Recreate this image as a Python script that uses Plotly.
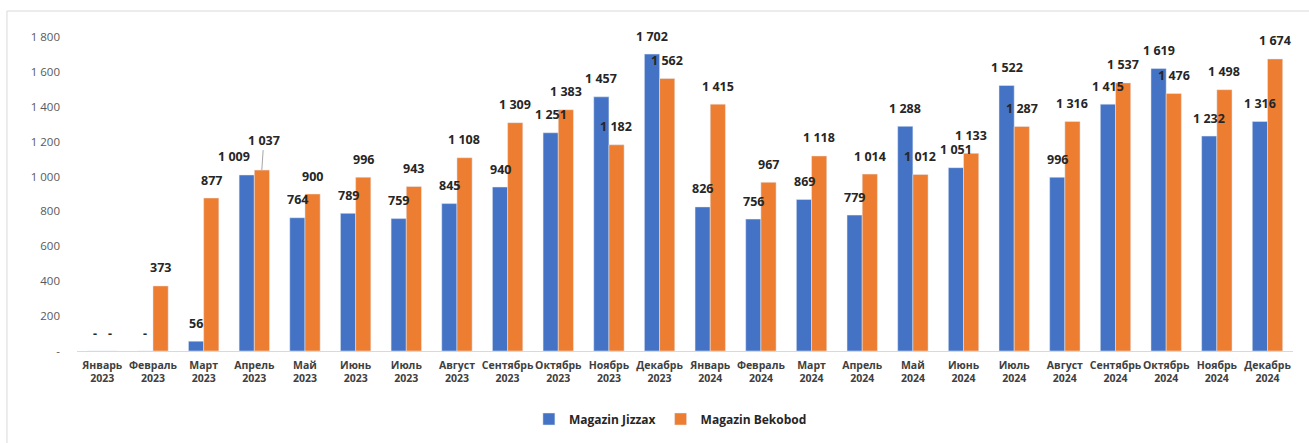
import plotly.graph_objects as go

months = ["Январь", "Февраль", "Март", "Апрель", "Май", "Июнь", "Июль", "Август",
          "Сентябрь", "Октябрь", "Ноябрь", "Декабрь"]
years = ["2023", "2024"]
categories = [f"{m}<br>{y}" for y in years for m in months]

jizzax = [0, 0, 56, 1009, 764, 789, 759, 845, 940, 1251, 1457, 1702,
          826, 756, 869, 779, 1288, 1051, 1522, 996, 1415, 1619, 1232, 1316]
bekobod = [0, 373, 877, 1037, 900, 996, 943, 1108, 1309, 1383, 1182, 1562,
           1415, 967, 1118, 1014, 1012, 1133, 1287, 1316, 1537, 1476, 1498, 1674]

y_ticks = [0, 200, 400, 600, 800, 1000, 1200, 1400, 1600, 1800]
y_ticktext = ["-", "200", "400", "600", "800", "1 000", "1 200", "1 400", "1 600", "1 800"]

BLUE = "#4472C4"
ORANGE = "#ED7D31"
FONT = "Open Sans"

# manual label nudges (series index, category index) -> (dx, dy, leader line)
label_nudge = {(0, 3): (-13, 0, False), (1, 3): (2, 12, True)}


def fmt(v):
    return "-" if v == 0 else f"{v:,}".replace(",", " ")


fig = go.Figure()
fig.add_trace(go.Bar(x=categories, y=jizzax, name="Magazin Jizzax", marker_color=BLUE))
fig.add_trace(go.Bar(x=categories, y=bekobod, name="Magazin Bekobod", marker_color=ORANGE))

annotations = []
half = 7.5
label_font = dict(family=FONT, size=12.5, color="#262626", weight="bold")
for si, (series, sx) in enumerate(((jizzax, -half), (bekobod, half))):
    for ci, (c, v) in enumerate(zip(categories, series)):
        dx, dy, leader = label_nudge.get((si, ci), (0, 0, False))
        if leader:
            annotations.append(dict(
                x=c, y=v, xref="x", yref="y", text=fmt(v), showarrow=True,
                arrowhead=0, arrowwidth=1, arrowcolor="#a6a6a6", standoff=0,
                ax=dx, ay=-(18 + dy), xshift=sx, font=label_font,
            ))
        else:
            annotations.append(dict(
                x=c, y=v, xref="x", yref="y", text=fmt(v), showarrow=False,
                xshift=sx + dx, yshift=18 + dy, yanchor="middle", font=label_font,
            ))

fig.update_layout(
    width=1309, height=443,
    margin=dict(l=77, r=16, t=37, b=92, autoexpand=False),
    paper_bgcolor="white", plot_bgcolor="white",
    barmode="group", bargap=0.4, bargroupgap=0,
    font=dict(family=FONT, color="#404040"),
    showlegend=True,
    legend=dict(orientation="h", x=0.488, xanchor="center", y=-0.2166, yanchor="middle",
                font=dict(size=12, color="#262626", weight="bold"), itemwidth=30,
                tracegroupgap=0),
    annotations=annotations,
    shapes=[dict(type="rect", xref="paper", yref="paper",
                 x0=-0.0576, x1=1.2, y0=-0.6, y1=1.0828,
                 line=dict(color="#d9d9d9", width=1), layer="below")],
)
fig.update_xaxes(showline=True, linecolor="#d9d9d9", linewidth=1, showgrid=False,
                 ticks="", tickfont=dict(size=10.5, color="#404040", weight="bold"),
                 tickangle=0, ticklabelstandoff=4)
fig.update_yaxes(range=[0, 1800], tickvals=y_ticks, ticktext=y_ticktext,
                 showgrid=False, zeroline=False, showline=False,
                 tickfont=dict(size=11.5, color="#595959"), ticklabelstandoff=16)

fig.write_html("out.html")
